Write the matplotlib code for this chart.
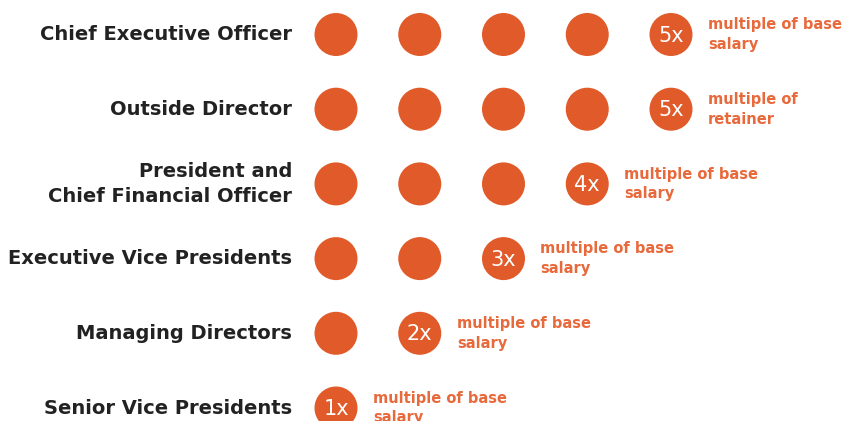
import matplotlib
matplotlib.use("Agg")
import matplotlib.pyplot as plt
from matplotlib.patches import Circle

categories = ["Chief Executive Officer", "Outside Director",
              "President and\nChief Financial Officer", "Executive Vice Presidents",
              "Managing Directors", "Senior Vice Presidents"]
multiples = [5, 5, 4, 3, 2, 1]
notes = ["multiple of base\nsalary", "multiple of\nretainer", "multiple of base\nsalary",
         "multiple of base\nsalary", "multiple of base\nsalary", "multiple of base\nsalary"]

ORANGE = "#E15A29"
TEXT_ORANGE = "#E8693C"

W, H = 844, 421
fig = plt.figure(figsize=(W / 100, H / 100), dpi=100)
ax = fig.add_axes([0, 0, 1, 1])
ax.set_xlim(0, W)
ax.set_ylim(H, 0)
ax.axis("off")

x0, dx = 336, 83.75
y0, dy = 34.5, 74.7
r = 21.5

for i, (cat, m, note) in enumerate(zip(categories, multiples, notes)):
    y = y0 + i * dy
    ax.text(292, y, cat, ha="right", va="center", fontsize=14, family="DejaVu Sans",
            weight="semibold", color="#222222", linespacing=1.35)
    for j in range(m):
        x = x0 + j * dx
        ax.add_patch(Circle((x, y), r, color=ORANGE, lw=0))
    xl = x0 + (m - 1) * dx
    ax.text(xl, y + 1, f"{m}x", ha="center", va="center", fontsize=15, family="DejaVu Sans",
            color="white")
    ax.text(xl + 37, y, note, ha="left", va="center", fontsize=10.5, family="DejaVu Sans",
            weight="bold", color=TEXT_ORANGE, linespacing=1.4)

fig.savefig("out.png", dpi=100)
